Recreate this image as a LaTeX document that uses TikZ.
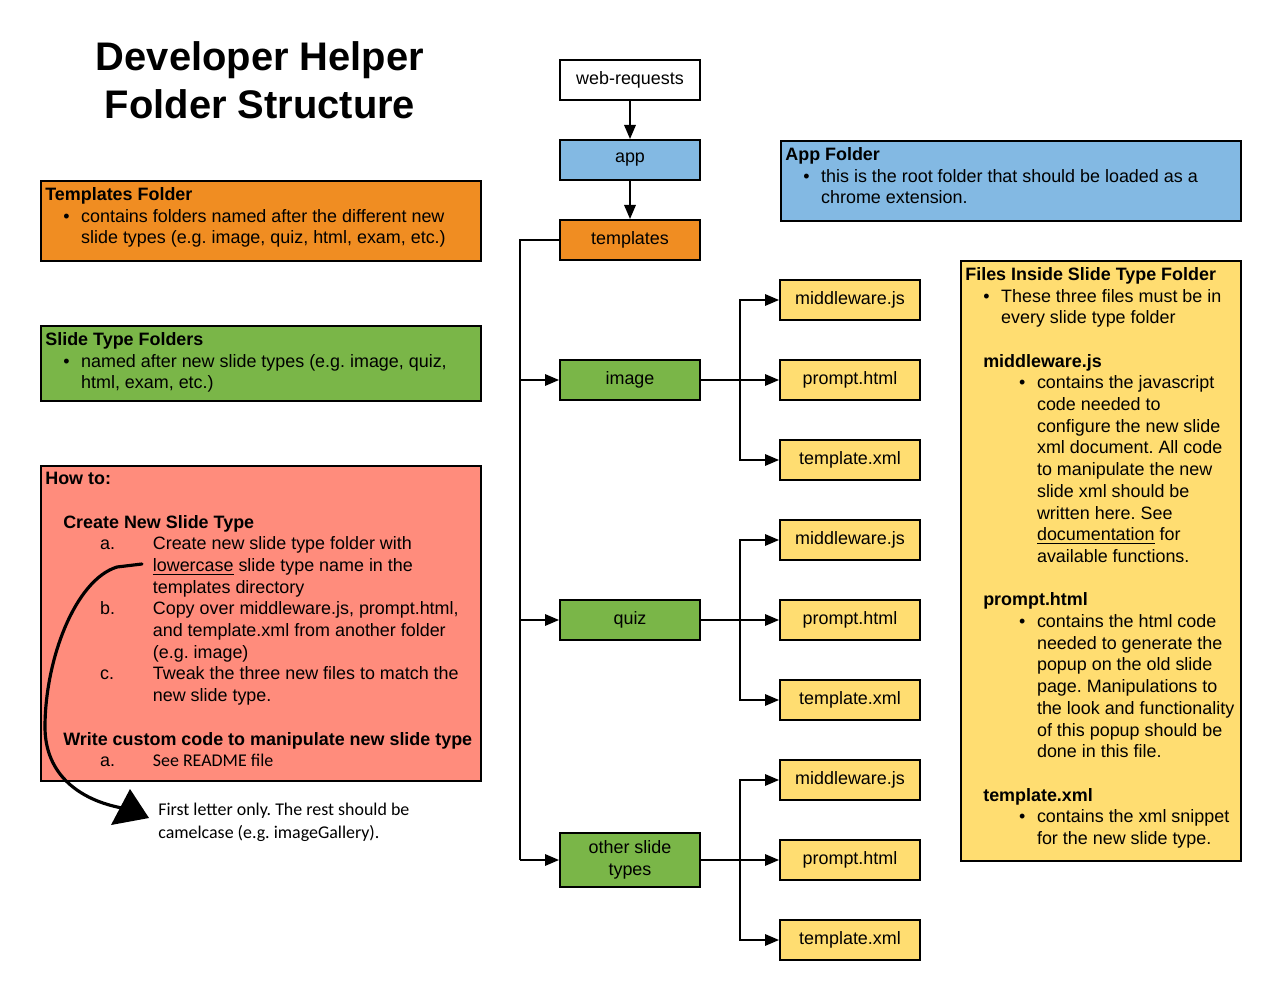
\documentclass[tikz,border=0pt]{standalone}
\usepackage{fontspec}
\setmainfont{Liberation Sans}
\newfontfamily\calibri{Carlito}
\usetikzlibrary{arrows.meta}
\frenchspacing

\definecolor{appblue}{HTML}{83B9E3}
\definecolor{tplorange}{HTML}{F08D22}
\definecolor{slidegreen}{HTML}{7AB648}
\definecolor{fileyellow}{HTML}{FFDD71}
\definecolor{howsalmon}{HTML}{FF8C7C}

\newcommand{\bulletat}[1]{\hspace*{#1}\makebox[10.2pt][l]{\textbullet}}
\newcommand{\stepat}[1]{\hspace*{31.2pt}\makebox[30pt][l]{#1}}

\tikzset{
  folder/.style={draw, line width=1.1pt, minimum width=2.8cm, minimum height=0.8cm, inner sep=0pt, align=center},
  infobox/.style={draw, line width=1.1pt, inner sep=0pt, anchor=north west},
  boxtext/.style={anchor=north west, inner sep=0pt, align=left},
  link/.style={line width=1.1pt, -{Triangle[length=8pt, width=6.5pt]}},
  branch/.style={line width=1.1pt}
}

\begin{document}
\begin{tikzpicture}[x=0.02cm, y=-0.02cm, font=\fontsize{10.2}{12.35}\selectfont]

\useasboundingbox (0,0) rectangle (1280,1000);

% title
\node[font=\fontsize{22.7}{27.2}\selectfont\bfseries, align=center] (title) at (260,80) {Developer Helper\\Folder Structure};

% folder tree
\node[folder] (webreq) at (630,80) {web-requests};
\node[folder, fill=appblue] (app) at (630,160) {app};
\node[folder, fill=tplorange] (templates) at (630,240) {templates};
\node[folder, fill=slidegreen] (image) at (630,380) {image};
\node[folder, fill=slidegreen] (quiz) at (630,620) {quiz};
\node[folder, fill=slidegreen, minimum height=1.08cm] (other) at (630,860) {other slide\\types};

\draw[link] (webreq) -- (app);
\draw[link] (app) -- (templates);

\coordinate (trunk) at (520,240);
\draw[branch] (templates.west) -- (trunk) -- (trunk |- other.west);
\foreach \s in {image, quiz, other}
  \draw[link] (trunk |- \s.west) -- (\s.west);

% files in each slide type folder
\foreach \s/\y in {image/380, quiz/620, other/860} {
  \node[folder, fill=fileyellow] (\s-mw) at (850,\y-80) {middleware.js};
  \node[folder, fill=fileyellow] (\s-pr) at (850,\y) {prompt.html};
  \node[folder, fill=fileyellow] (\s-tx) at (850,\y+80) {template.xml};
  \coordinate (\s-fork) at (740,\y);
  \draw[link] (\s.east) -- (\s-pr.west);
  \draw[link] (\s-fork) |- (\s-mw.west);
  \draw[link] (\s-fork) |- (\s-tx.west);
}

% notes
\node[infobox, fill=tplorange, minimum width=8.8cm, minimum height=1.6cm] (tplinfo) at (40,180) {};
\node[boxtext] (tpltext) at (45,187) {\textbf{Templates Folder}\\
\bulletat{10.2pt}contains folders named after the different new\\
\hspace*{20.4pt}slide types (e.g. image, quiz, html, exam, etc.)};

\node[infobox, fill=slidegreen, minimum width=8.8cm, minimum height=1.5cm] (slideinfo) at (40,325) {};
\node[boxtext] (slidetext) at (45,332) {\textbf{Slide Type Folders}\\
\bulletat{10.2pt}named after new slide types (e.g. image, quiz,\\
\hspace*{20.4pt}html, exam, etc.)};

\node[infobox, fill=appblue, minimum width=9.2cm, minimum height=1.6cm] (appinfo) at (780,140) {};
\node[boxtext] (apptext) at (785,147) {\textbf{App Folder}\\
\bulletat{10.2pt}this is the root folder that should be loaded as a\\
\hspace*{20.4pt}chrome extension.};

\node[infobox, fill=howsalmon, minimum width=8.8cm, minimum height=6.3cm] (howinfo) at (40,465) {};
\node[boxtext] (howtext) at (45,472) {\textbf{How to:}\\[12.35pt]
\hspace*{10.2pt}\textbf{Create New Slide Type}\\
\stepat{a.}Create new slide type folder with\\
\hspace*{61.2pt}\underline{lowercase} slide type name in the\\
\hspace*{61.2pt}templates directory\\
\stepat{b.}Copy over middleware.js, prompt.html,\\
\hspace*{61.2pt}and template.xml from another folder\\
\hspace*{61.2pt}(e.g. image)\\
\stepat{c.}Tweak the three new files to match the\\
\hspace*{61.2pt}new slide type.\\[12.35pt]
\hspace*{10.2pt}\textbf{Write custom code to manipulate new slide type}\\
\stepat{a.}{\calibri See README file}};

\node[infobox, fill=fileyellow, minimum width=5.6cm, minimum height=12cm] (filesinfo) at (960,260) {};
\node[boxtext] (filestext) at (965,267) {\textbf{Files Inside Slide Type Folder}\\
\bulletat{10.2pt}These three files must be in\\
\hspace*{20.4pt}every slide type folder\\[12.35pt]
\hspace*{10.2pt}\textbf{middleware.js}\\
\bulletat{30.6pt}contains the javascript\\
\hspace*{40.8pt}code needed to\\
\hspace*{40.8pt}configure the new slide\\
\hspace*{40.8pt}xml document. All code\\
\hspace*{40.8pt}to manipulate the new\\
\hspace*{40.8pt}slide xml should be\\
\hspace*{40.8pt}written here. See\\
\hspace*{40.8pt}\underline{documentation} for\\
\hspace*{40.8pt}available functions.\\[12.35pt]
\hspace*{10.2pt}\textbf{prompt.html}\\
\bulletat{30.6pt}contains the html code\\
\hspace*{40.8pt}needed to generate the\\
\hspace*{40.8pt}popup on the old slide\\
\hspace*{40.8pt}page. Manipulations to\\
\hspace*{40.8pt}the look and functionality\\
\hspace*{40.8pt}of this popup should be\\
\hspace*{40.8pt}done in this file.\\[12.35pt]
\hspace*{10.2pt}\textbf{template.xml}\\
\bulletat{30.6pt}contains the xml snippet\\
\hspace*{40.8pt}for the new slide type.};

% hand drawn hint
\coordinate (hintstart) at (142,564);
\coordinate (hintend) at (122,808);
\draw[line width=1.8pt, line cap=round] (hintstart) -- (117,567) .. controls (75,580) and (45,660) .. (45,727) .. controls (45,775) and (80,800) .. (hintend);
\fill (130,789) -- (149,818) -- (111,825) -- cycle;
\node[anchor=north west, inner sep=0pt, align=left, font=\calibri\fontsize{10.2}{13}\selectfont] (hint) at (158,803) {First letter only. The rest should be\\camelcase (e.g. imageGallery).};

\end{tikzpicture}
\end{document}
